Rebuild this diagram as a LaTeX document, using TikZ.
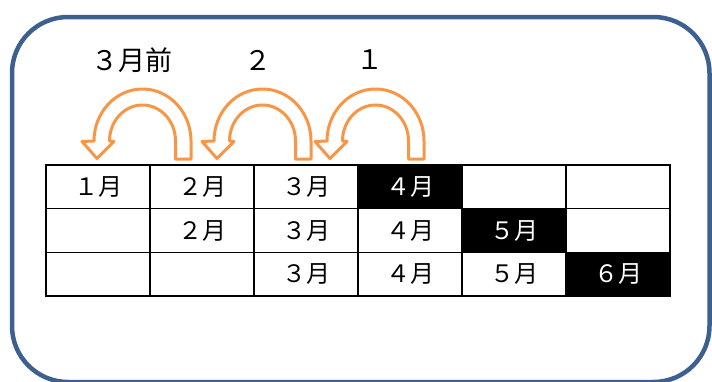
\documentclass[tikz,border=0pt]{standalone}
\usepackage{fontspec}
\newfontfamily\jpfont{Noto Sans CJK JP}
\definecolor{framecol}{HTML}{3E6090}
\definecolor{arrowcol}{HTML}{F79646}
\tikzset{
  cell/.style={draw=black, line width=1.5pt, minimum width=104pt, minimum height=43.7pt,
    inner sep=0pt, font=\jpfont\fontsize{24}{26}\selectfont, anchor=center},
  hot/.style={cell, fill=black, text=white},
  toplabel/.style={font=\jpfont\fontsize{27}{29}\selectfont, inner sep=0pt},
  uarrow/.style={draw=arrowcol, fill=white, line width=3pt, line join=round}
}
\begin{document}
\begin{tikzpicture}[x=1pt,y=-1pt]
\useasboundingbox (0,0) rectangle (712,381);
% frame
\draw[framecol, line width=4.5pt, rounded corners=56pt] (12,17) rectangle (709.5,382);
% table
\foreach \c in {1,...,6} {
  \foreach \r in {1,2,3} {
    \node[cell] (c\r\c) at ({46+104*(\c-0.5)},{165+43.7*(\r-0.5)}) {};
  }
}
\node[cell] at (c11) {１月};
\node[cell] at (c12) {２月};
\node[cell] at (c13) {３月};
\node[hot] at (c14) {４月};
\node[cell] at (c22) {２月};
\node[cell] at (c23) {３月};
\node[cell] at (c24) {４月};
\node[hot] at (c25) {５月};
\node[cell] at (c33) {３月};
\node[cell] at (c34) {４月};
\node[cell] at (c35) {５月};
\node[hot] at (c36) {６月};
% labels
\node[toplabel] (l3) at (132,60) {３月前};
\node[toplabel] (l2) at (258,60) {２};
\node[toplabel] (l1) at (370,60) {１};
% U-turn arrows
\foreach \dx in {0,120,233} {
  \begin{scope}[xshift=\dx pt]
    \draw[uarrow] (175.5,159) -- (191,159) -- (191,141)
      arc[start angle=0, end angle=-180, x radius=48.5, y radius=52]
      -- (82,141.5) -- (97,158.5) -- (114,141.5) -- (109.5,141)
      arc[start angle=-180, end angle=0, x radius=33, y radius=36]
      -- cycle;
  \end{scope}
}
\end{tikzpicture}
\end{document}
